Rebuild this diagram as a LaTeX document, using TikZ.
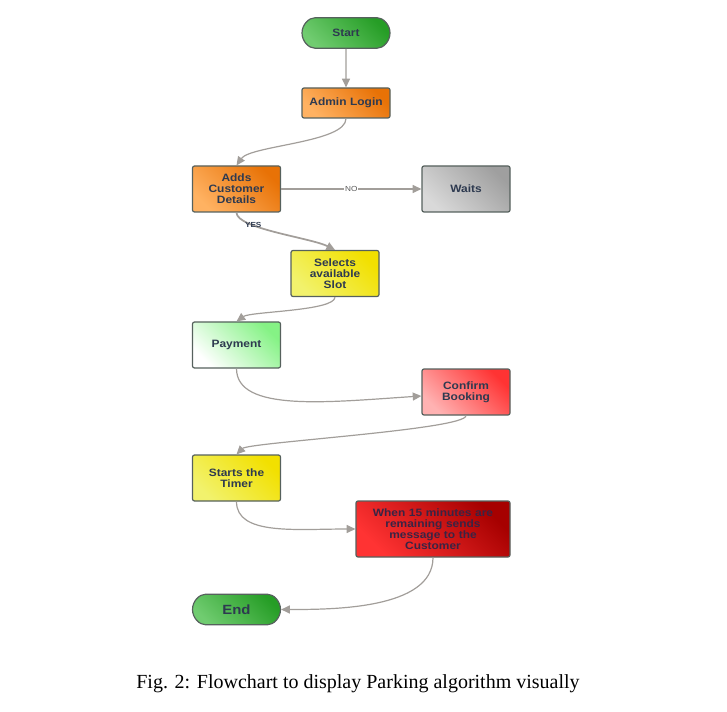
\documentclass[tikz,border=0pt]{standalone}
\usepackage{fontspec}
\setmainfont{Liberation Serif}
\newfontfamily\flowfont[FakeStretch=1.12]{Liberation Sans}
\usetikzlibrary{arrows.meta,shapes.misc}

\definecolor{edgegrey}{HTML}{56615D}
\definecolor{linegrey}{HTML}{A29E9A}
\definecolor{navytext}{HTML}{2E3A50}
\definecolor{plumtext}{HTML}{3A2444}
\definecolor{orangelight}{HTML}{FFB262}
\definecolor{orangedark}{HTML}{E87206}

\begin{document}
\begin{tikzpicture}[
        x=0.75pt, y=-0.75pt,
        >={Triangle[length=6.5pt,width=6pt]},
        stepbox/.style={
            rectangle,
            rounded corners=1.5pt,
            draw=edgegrey,
            line width=0.9pt,
            minimum width=66pt,
            minimum height=34.5pt,
            text width=62pt,
            align=center,
            inner sep=0pt,
            text=navytext,
            font=\flowfont\bfseries\fontsize{8}{8.3}\selectfont
        },
        terminal/.style={
            stepbox,
            rounded rectangle,
            minimum height=23pt
        },
        shadeit/.style 2 args={left color=#1, right color=#2, shading angle=135},
        flow/.style={->, draw=linegrey, line width=0.9pt},
        tag/.style={font=\flowfont\fontsize{5.5}{6}\selectfont, inner sep=0.5pt}
    ]

    \useasboundingbox (0,0) rectangle (727,712);

    \node[terminal, shadeit={green!45!white!80!black}{green!55!black!85}] (start) at (346,33) {Start};
    \node[stepbox, minimum height=22.5pt, shadeit={orangelight}{orangedark}] (admin) at (346,103) {Admin Login};
    \node[stepbox, shadeit={orangelight}{orangedark}] (adds) at (236.5,189) {Adds\\Customer\\Details};
    \node[stepbox, shadeit={gray!30}{gray!75}] (waits) at (466,189) {Waits};
    \node[stepbox, shadeit={yellow!55!white!95!black}{yellow!85!orange!95!black}] (selects) at (335,273.5) {Selects\\available\\Slot};
    \node[stepbox, shadeit={white}{green!45!white!95!black}] (payment) at (236.5,345) {Payment};
    \node[stepbox, shadeit={red!30!white}{red!80!white}] (confirm) at (466,392) {Confirm\\Booking};
    \node[stepbox, shadeit={yellow!55!white!95!black}{yellow!85!orange!95!black}] (timer) at (236.5,478) {Starts the\\Timer};
    \node[stepbox, minimum width=115.5pt, minimum height=42pt, text width=108pt, text=plumtext,
          shadeit={red!80!white}{red!65!black}] (remind) at (433,529)
          {When 15 minutes are\\remaining sends\\message to the\\Customer};
    \node[terminal, font=\flowfont\bfseries\fontsize{10}{11}\selectfont,
          shadeit={green!45!white!80!black}{green!55!black!85}] (finish) at (236.5,609.5) {End};

    \node[font=\fontsize{15}{18}\selectfont] (caption) at (358,684)
        {Fig. 2: Flowchart to display Parking algorithm visually};

    \draw[flow] (start) -- (admin);
    \draw[flow] (admin.south) .. controls +(0,24) and +(14,-20) .. (adds.north);
    \draw[flow] (adds) -- node[tag, text=gray!70!black, fill=white] {NO} (waits);
    \draw[flow, line width=1.3pt] (adds.south) .. controls +(0,16) and +(-24,-12) .. node[tag, pos=0.3, text=navytext, font=\flowfont\bfseries\fontsize{5.5}{6}\selectfont] {YES} (selects.north);
    \draw[flow] (selects.south) .. controls +(0,14) and +(14,-10) .. (payment.north);
    \draw[flow] (payment.south) .. controls +(0,44) and +(-92,6) .. ([yshift=-3pt]confirm.west);
    \draw[flow] (confirm.south) .. controls +(0,14) and +(12,-12) .. (timer.north);
    \draw[flow] (timer.south) .. controls +(0,34) and +(-60,0) .. (remind.west);
    \draw[flow] (remind.south) .. controls +(0,52) and +(50,0) .. (finish.east);

    \end{tikzpicture}
\end{document}
